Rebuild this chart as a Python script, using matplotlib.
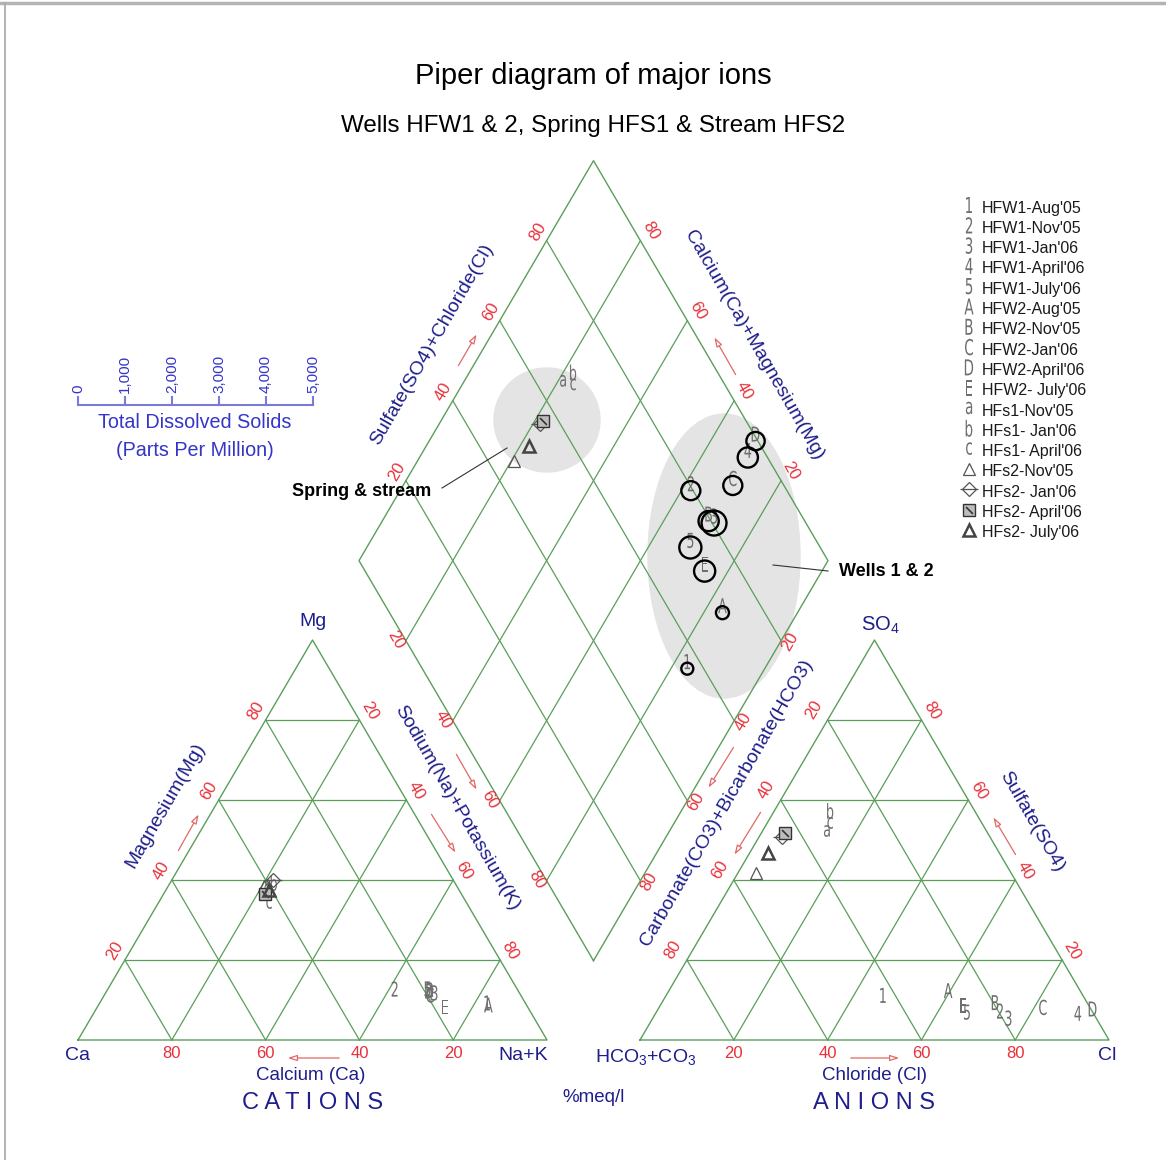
import numpy as np
import matplotlib.pyplot as plt
from matplotlib.patches import Ellipse, Circle, PathPatch
from matplotlib.textpath import TextPath
from matplotlib.font_manager import FontProperties
from matplotlib.transforms import Affine2D

plt.rcParams['font.family'] = ['Liberation Sans', 'DejaVu Sans']

# samples: symbol id and legend name
ids = ['1', '2', '3', '4', '5', 'A', 'B', 'C', 'D', 'E', 'a', 'b', 'c',
       'tri', 'dia', 'sq', 'btri']
names = ["HFW1-Aug'05", "HFW1-Nov'05", "HFW1-Jan'06", "HFW1-April'06", "HFW1-July'06",
         "HFW2-Aug'05", "HFW2-Nov'05", "HFW2-Jan'06", "HFW2-April'06", "HFW2- July'06",
         "HFs1-Nov'05", "HFs1- Jan'06", "HFs1- April'06",
         "HFs2-Nov'05", "HFs2- Jan'06", "HFs2- April'06", "HFs2- July'06"]
# cations, %meq/l (Ca = 100 - Mg - Na+K)
mg = [7.5, 11.0, 10.0, 10.0, 11.0, 7.0, 10.8, 9.5, 10.5, 6.5,
      37.0, 37.5, 32.5, 38.5, 40.0, 36.5, 37.5]
nak = [83.5, 62.0, 71.0, 70.0, 69.0, 84.0, 69.6, 70.3, 69.6, 75.0,
       21.9, 23.0, 24.5, 20.5, 21.5, 21.7, 22.0]
# anions, %meq/l (HCO3+CO3 = 100 - SO4 - Cl)
so4 = [9.4, 5.5, 3.7, 4.9, 5.2, 10.6, 7.6, 6.4, 6.0, 6.9,
       50.5, 55.5, 52.5, 41.7, 50.7, 51.7, 46.7]
cl = [47.1, 74.0, 76.7, 90.9, 67.1, 60.4, 71.9, 82.7, 93.5, 65.5,
      14.6, 12.8, 14.3, 3.8, 4.9, 5.0, 3.9]
# total dissolved solids, ppm (wells only)
tds = [255, 405, 530, 430, 470, 277, 430, 405, 390, 450]
tds_ticks = [0, 1000, 2000, 3000, 4000, 5000]
pct_ticks = [20, 40, 60, 80]

GREEN = '#5a9e5a'
RED = '#e8303a'
NAVY = '#1e1e8c'
BLUE = '#3535c8'
GRAY = '#6e6e6e'

# layout (pixels)
L, H = 469.0, 400.0
cat0 = (78.0, 1040.0)
an0 = (640.0, 1040.0)
bx = (cat0[0] + L + an0[0]) / 2
by = cat0[1] - (an0[0] - cat0[0] - L) / 2 * H / (L / 2)


def tri_xy(o, top, right):
    return o[0] + L * (right + top / 2) / 100, o[1] - H * top / 100


def dia_xy(s, c):
    # s = SO4+Cl %, c = Ca+Mg %
    return bx + L / 2 * (s - c) / 100, by - H * (s + c) / 100


fig = plt.figure(figsize=(11.66, 11.60), dpi=100)
ax = fig.add_axes([0, 0, 1, 1])
ax.set_xlim(0, 1166)
ax.set_ylim(1160, 0)
ax.axis('off')

# frame
ax.plot([0, 1166], [3, 3], color='#b4b4b4', lw=2.5)
ax.plot([5, 5], [3, 1160], color='#a8a8a8', lw=1.2)

# grey groupings
ax.add_patch(Ellipse((547, 420), 106, 104, color='#e4e4e4', zorder=0))
ax.add_patch(Ellipse((724, 556), 152, 284, color='#e4e4e4', zorder=0))

# triangles
for o in (cat0, an0):
    p = [tri_xy(o, 0, 0), tri_xy(o, 0, 100), tri_xy(o, 100, 0), tri_xy(o, 0, 0)]
    ax.plot([q[0] for q in p], [q[1] for q in p], color=GREEN, lw=1)
    for f in pct_ticks:
        for a, b in [((f, 0), (f, 100 - f)), ((0, f), (100 - f, f)), ((0, 100 - f), (100 - f, 0))]:
            p1, p2 = tri_xy(o, *a), tri_xy(o, *b)
            ax.plot([p1[0], p2[0]], [p1[1], p2[1]], color=GREEN, lw=0.9)

# diamond
p = [dia_xy(0, 0), dia_xy(100, 0), dia_xy(100, 100), dia_xy(0, 100), dia_xy(0, 0)]
ax.plot([q[0] for q in p], [q[1] for q in p], color=GREEN, lw=1)
for f in pct_ticks:
    for a, b in [((f, 0), (f, 100)), ((0, f), (100, f))]:
        p1, p2 = dia_xy(*a), dia_xy(*b)
        ax.plot([p1[0], p2[0]], [p1[1], p2[1]], color=GREEN, lw=0.9)

# red tick labels
tk = dict(color=RED, fontsize=12, ha='center', va='center', rotation_mode='anchor')
for f in pct_ticks:
    x, y = tri_xy(cat0, f, 0)
    ax.text(x - 10, y - 9, str(f), rotation=60, **tk)
    x, y = tri_xy(cat0, 100 - f, f)
    ax.text(x + 10, y - 9, str(f), rotation=-60, **tk)
    x, y = tri_xy(cat0, 0, 100 - f)
    ax.text(x, y + 14, str(f), **tk)
    x, y = tri_xy(an0, 100 - f, 0)
    ax.text(x - 14, y - 10, str(f), rotation=60, **tk)
    x, y = tri_xy(an0, f, 100 - f)
    ax.text(x + 10, y - 9, str(f), rotation=-60, **tk)
    x, y = tri_xy(an0, 0, f)
    ax.text(x, y + 14, str(f), **tk)
    x, y = dia_xy(f, 100)
    ax.text(x - 9, y - 9, str(f), rotation=60, **tk)
    x, y = dia_xy(100, f)
    ax.text(x + 10, y - 10, str(f), rotation=-60, **tk)
    x, y = dia_xy(0, 100 - f)
    ax.text(x - 10, y - 1, str(f), rotation=-60, **tk)
    x, y = dia_xy(100 - f, 0)
    ax.text(x + 9, y + 1, str(f), rotation=60, **tk)

# red direction arrows
arrows = [((457, 368), (478, 332)), ((737, 377), (713, 335)), ((455, 752), (478, 792)),
          ((430, 812), (457, 855)), ((177, 853), (200, 812)), ((342, 1058), (285, 1058)),
          ((848, 1058), (902, 1058)), ((762, 810), (733, 857)), ((735, 745), (707, 790)),
          ((1017, 857), (992, 815))]
for s, e in arrows:
    ax.annotate('', xy=e, xytext=s,
                arrowprops=dict(arrowstyle='-|>,head_length=0.55,head_width=0.18',
                                color='#e06868', fc='white', lw=0.9))

# axis texts
nv = dict(color=NAVY, ha='center', va='center', rotation_mode='anchor')
ax.text(313, 622, 'Mg', fontsize=14, **nv)
ax.text(78, 1055, 'Ca', fontsize=14, **nv)
ax.text(523, 1055, 'Na+K', fontsize=14, **nv)
ax.text(311, 1075, 'Calcium (Ca)', fontsize=13.5, **nv)
ax.text(313, 1103, 'C A T I O N S', fontsize=17, **nv)
ax.text(646, 1057, r'HCO$\mathregular{_3}$+CO$\mathregular{_3}$', fontsize=14, **nv)
ax.text(1107, 1055, 'Cl', fontsize=14, **nv)
ax.text(880, 625, r'SO$\mathregular{_4}$', fontsize=14.5, **nv)
ax.text(874, 1075, 'Chloride (Cl)', fontsize=13.5, **nv)
ax.text(874, 1103, 'A N I O N S', fontsize=17, **nv)
ax.text(594, 1098, '%meq/l', fontsize=13.5, **nv)
ax.text(165, 805, 'Magnesium(Mg)', fontsize=14, rotation=60, **nv)
ax.text(457, 808, 'Sodium(Na)+Potassium(K)', fontsize=14, rotation=-60, **nv)
ax.text(727, 803, 'Carbonate(CO3)+Bicarbonate(HCO3)', fontsize=14, rotation=60, **nv)
ax.text(1032, 822, 'Sulfate(SO4)', fontsize=14, rotation=-60, **nv)
ax.text(432, 345, 'Sulfate(SO4)+Chloride(Cl)', fontsize=14, rotation=60, **nv)
ax.text(754, 345, 'Calcium(Ca)+Magnesium(Mg)', fontsize=14, rotation=-60, **nv)

# titles
ax.text(593, 76, 'Piper diagram of major ions', fontsize=21, ha='center', va='center')
ax.text(593, 126, 'Wells HFW1 & 2, Spring HFS1 & Stream HFS2', fontsize=17.4,
        ha='center', va='center')

# group labels
ax.text(362, 492, 'Spring & stream', fontsize=13, fontweight='bold', ha='center', va='center')
ax.plot([442, 507], [488, 448], color='#333333', lw=0.8)
ax.text(886, 572, 'Wells 1 & 2', fontsize=13, fontweight='bold', ha='center', va='center')
ax.plot([773, 828], [565, 571], color='#333333', lw=0.8)

# TDS scale
sx0, sx1 = 78.0, 313.0
ax.plot([sx0, sx1], [405, 405], color='#7a7ad8', lw=1.5)
for t in tds_ticks:
    x = sx0 + (sx1 - sx0) * t / tds_ticks[-1]
    ax.plot([x, x], [405, 397], color='#7a7ad8', lw=1.5)
    ax.text(x, 393, f'{t:,}', rotation=90, ha='center', va='bottom', color=BLUE, fontsize=11)
ax.text(195, 423, 'Total Dissolved Solids', color=BLUE, fontsize=14.2, ha='center', va='center')
ax.text(195, 450, '(Parts Per Million)', color=BLUE, fontsize=14.2, ha='center', va='center')

gfp = FontProperties(family='DejaVu Sans')


def glyph(ch, x, y, h=15, color=GRAY, z=5):
    tp = TextPath((0, 0), ch, size=1, prop=gfp)
    ext = tp.get_extents()
    sy = h / 0.73
    tr = Affine2D().translate(-(ext.x0 + ext.x1) / 2, -(ext.y0 + ext.y1) / 2) \
        .scale(sy * 0.62, -sy).translate(x, y)
    ax.add_patch(PathPatch(tr.transform_path(tp), fc=color, ec='none', zorder=z))


def symbol(i, x, y, leg=False):
    sid = ids[i]
    if len(sid) == 1:
        glyph(sid, x, y if leg else y - 7, h=16 if leg else 15)
    elif sid == 'tri':
        ax.plot(x, y, marker='^', ms=8.5, mfc='none', mec='#555555', mew=0.9, zorder=5)
    elif sid == 'dia':
        ax.plot(x, y, marker='D', ms=7, mfc='none', mec='#555555', mew=0.9, zorder=5)
        ax.plot(x, y, marker='_', ms=13, mec='#555555', mew=0.9, zorder=5)
    elif sid == 'sq':
        ax.plot(x, y, marker='s', ms=8, mfc='#bdbdbd', mec='#333333', mew=1.0, zorder=5)
        ax.plot(x, y, marker=(2, 0, 45), ms=7, mec='#333333', mew=1.2, zorder=5)
    else:
        ax.plot(x, y, marker='^', ms=8.5, mfc='none', mec='#444444', mew=1.8, zorder=5)


# data points
for i in range(len(ids)):
    symbol(i, *tri_xy(cat0, mg[i], nak[i]))
    symbol(i, *tri_xy(an0, so4[i], cl[i]))
    x, y = dia_xy(so4[i] + cl[i], 100 - nak[i])
    symbol(i, x, y)
    if i < len(tds):
        r = tds[i] * (sx1 - sx0) / tds_ticks[-1] / 2
        ax.add_patch(Circle((x, y), r, fill=False, ec='black', lw=1.7, zorder=6))

# legend
for i, nm in enumerate(names):
    y = 208 + i * 20.3
    symbol(i, 969, y - 3, leg=True)
    ax.text(982, y, nm, fontsize=11.5, ha='left', va='center', color='#1a1a1a')

fig.savefig('out.png', dpi=100)
